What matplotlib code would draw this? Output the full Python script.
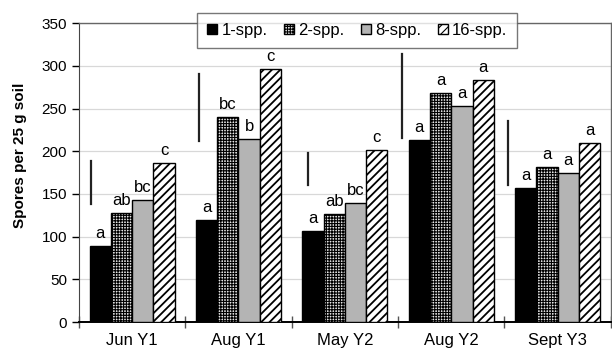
import matplotlib.pyplot as plt
import numpy as np

plt.rcParams['font.family'] = 'Liberation Sans'
plt.rcParams['hatch.linewidth'] = 0.8

# sampling dates and richness treatments
dates = ['Jun Y1', 'Aug Y1', 'May Y2', 'Aug Y2', 'Sept Y3']
treatments = ['1-spp.', '2-spp.', '8-spp.', '16-spp.']

# spores per 25 g soil, one list per treatment
spp1 = [89, 119, 106, 213, 157]
spp2 = [128, 240, 127, 268, 182]
spp8 = [143, 214, 139, 253, 175]
spp16 = [186, 296, 201, 283, 210]

# significance letters per date, in treatment order
letters = [
    ['a', 'ab', 'bc', 'c'],
    ['a', 'bc', 'b', 'c'],
    ['a', 'ab', 'bc', 'c'],
    ['a', 'a', 'a', 'a'],
    ['a', 'a', 'a', 'a'],
]

# LSD bars: lower and upper ends
lsd_low = [138, 212, 160, 216, 160]
lsd_high = [188, 290, 198, 314, 235]
lsd_offset = [0.113, 0.127, 0.150, 0.033, 0.038]

series = [spp1, spp2, spp8, spp16]
styles = [
    dict(color='black', hatch=None, hlw=0.8),
    dict(color='#e6e6e6', hatch='++++++', hlw=0.8),
    dict(color='#b4b4b4', hatch=None, hlw=0.8),
    dict(color='white', hatch='////', hlw=1.3),
]

fig = plt.figure(figsize=(6.12, 3.5), dpi=100)
ax = fig.add_axes([0.129, 0.08, 0.869, 0.854])

x = np.arange(len(dates))
width = 0.2
for i, (vals, st) in enumerate(zip(series, styles)):
    pos = x - 0.3 + i * width
    bars = ax.bar(pos, vals, width, facecolor=st['color'], edgecolor='black',
                  linewidth=1.0, hatch=st['hatch'], label=treatments[i],
                  zorder=3)
    for b in bars:
        if hasattr(b, 'set_hatch_linewidth'):
            b.set_hatch_linewidth(st['hlw'])
    for j, v in enumerate(vals):
        ax.annotate(letters[j][i], (pos[j], v), xytext=(0, 9),
                    textcoords='offset points', ha='center', va='center',
                    fontsize=12, zorder=4)

for j in range(len(dates)):
    xl = j - 0.5 + lsd_offset[j]
    ax.plot([xl, xl], [lsd_low[j], lsd_high[j]], color='#222222', lw=1.6,
            zorder=3)

ax.set_xlim(-0.5, len(dates) - 0.5)
ax.set_ylim(0, 350)
ax.set_yticks(np.arange(0, 351, 50))
ax.set_xticks(x)
ax.set_xticklabels(dates, fontsize=12)
ax.set_xticks(np.arange(-0.5, len(dates), 1), minor=True)
ax.tick_params(axis='x', which='major', length=0, pad=8)
ax.tick_params(axis='x', which='minor', direction='inout', length=8,
               width=1, color='#555555')
ax.tick_params(axis='y', labelsize=11, length=5, width=1)

ax.grid(True, axis='y', color='#d8d8d8', lw=0.9, zorder=0)
for s in ['top', 'right']:
    ax.spines[s].set_color('#666666')
    ax.spines[s].set_linewidth(1.0)
ax.spines['left'].set_color('#444444')
ax.spines['bottom'].set_color('black')
ax.spines['bottom'].set_linewidth(1.4)

ax.set_ylabel('Spores per 25 g soil', fontsize=11, fontweight='bold')
ax.yaxis.set_label_coords(-0.098, 0.558)

leg = fig.legend(loc='center', bbox_to_anchor=(0.584, 0.913), ncol=4,
                 fontsize=12, frameon=True, fancybox=False,
                 handlelength=0.6, handleheight=0.6, handletextpad=0.25,
                 columnspacing=1.0, borderpad=0.6)
leg.get_frame().set_edgecolor('#555555')
leg.get_frame().set_linewidth(1.0)

fig.savefig('out.png', dpi=100)
